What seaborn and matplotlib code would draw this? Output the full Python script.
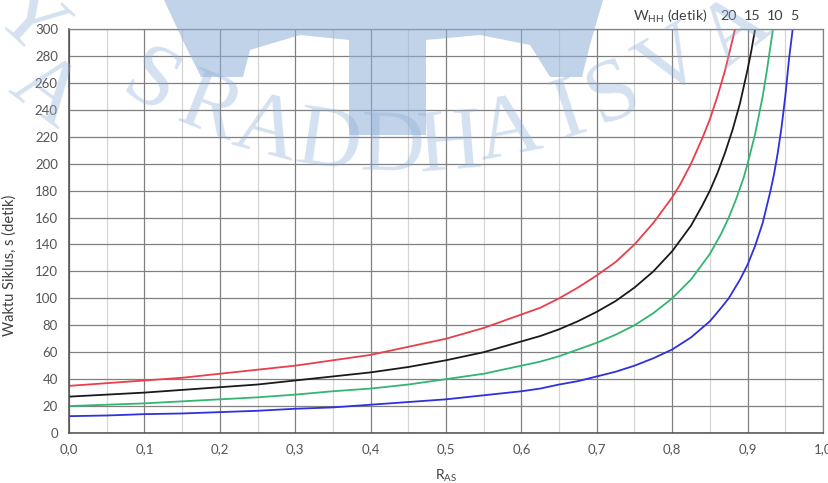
import numpy as np
import pandas as pd
import seaborn as sns
import matplotlib
matplotlib.use("Agg")
import matplotlib.pyplot as plt
from matplotlib.patches import Polygon
from matplotlib.ticker import MultipleLocator, FuncFormatter

# ---------------- data ----------------
r_w20 = [0.0, 0.05, 0.10, 0.15, 0.20, 0.25, 0.30, 0.35, 0.40, 0.45, 0.50, 0.55,
         0.60, 0.625, 0.65, 0.675, 0.70, 0.725, 0.75, 0.775, 0.80, 0.81, 0.825,
         0.84, 0.85, 0.86, 0.87, 0.88, 0.885]
s_w20 = [35, 37, 39, 41, 44, 47, 50, 54, 58, 64, 70, 78,
         88, 93, 100, 108, 117, 127, 140, 156, 175, 184, 200,
         219, 233, 250, 269, 292, 304]

r_w15 = [0.0, 0.05, 0.10, 0.15, 0.20, 0.25, 0.30, 0.35, 0.40, 0.45, 0.50, 0.55,
         0.60, 0.625, 0.65, 0.675, 0.70, 0.725, 0.75, 0.775, 0.80, 0.825, 0.84,
         0.85, 0.86, 0.87, 0.88, 0.89, 0.90, 0.905, 0.91]
s_w15 = [27, 28.5, 30, 32, 34, 36, 39, 42, 45, 49, 54, 60,
         68, 72, 77, 83, 90, 98, 108, 120, 135, 154, 169,
         180, 193, 208, 225, 245, 270, 284, 300]

r_w10 = [0.0, 0.05, 0.10, 0.15, 0.20, 0.25, 0.30, 0.35, 0.40, 0.45, 0.50, 0.55,
         0.60, 0.625, 0.65, 0.675, 0.70, 0.725, 0.75, 0.775, 0.80, 0.825, 0.85,
         0.865, 0.875, 0.885, 0.895, 0.90, 0.91, 0.92, 0.925, 0.93, 0.935]
s_w10 = [20, 21, 22, 23.5, 25, 26.5, 28.5, 31, 33, 36, 40, 44,
         50, 53, 57, 62, 67, 73, 80, 89, 100, 114, 133,
         148, 160, 174, 190, 200, 222, 250, 267, 286, 305]

r_w5 = [0.0, 0.05, 0.10, 0.15, 0.20, 0.25, 0.30, 0.35, 0.40, 0.45, 0.50, 0.55,
        0.60, 0.625, 0.65, 0.675, 0.70, 0.725, 0.75, 0.775, 0.80, 0.825, 0.85,
        0.865, 0.875, 0.89, 0.90, 0.91, 0.92, 0.93, 0.935, 0.94, 0.945, 0.95,
        0.955, 0.962]
s_w5 = [12.5, 13, 14, 14.5, 15.5, 16.5, 18, 19, 21, 23, 25, 28,
        31, 33, 36, 38.5, 42, 45.5, 50, 55.5, 62, 71, 83,
        93, 100, 114, 125, 139, 156, 179, 192, 208, 227, 250,
        278, 310]

series_names = ["20", "15", "10", "5"]
x_ticks = [0.0, 0.1, 0.2, 0.3, 0.4, 0.5, 0.6, 0.7, 0.8, 0.9, 1.0]
y_ticks = list(range(0, 301, 20))

rows = []
for name, xs, ys in zip(series_names, [r_w20, r_w15, r_w10, r_w5],
                        [s_w20, s_w15, s_w10, s_w5]):
    for x, y in zip(xs, ys):
        rows.append({"R_AS": x, "S": y, "W": name})
df = pd.DataFrame(rows)

palette = {"20": "#e8404a", "15": "#1a1a1a", "10": "#33b573", "5": "#3030dc"}

# ---------------- figure ----------------
sns.set_theme(style="white")
plt.rcParams["font.family"] = ["Lato", "DejaVu Sans"]
plt.rcParams["mathtext.fontset"] = "custom"
plt.rcParams["mathtext.rm"] = "Lato"

W, H = 829, 483
fig = plt.figure(figsize=(W / 100, H / 100), dpi=100)
fig.patch.set_facecolor("white")
ax = fig.add_axes([69 / W, 1 - 433 / H, (823 - 69) / W, (433 - 29) / H])
ax.set_facecolor("white")

sns.lineplot(data=df, x="R_AS", y="S", hue="W", palette=palette, ax=ax,
             estimator=None, sort=True, linewidth=1.3, legend=False)

ax.set_xlim(0, 1.0)
ax.set_ylim(0, 300)
ax.set_xticks(x_ticks)
ax.xaxis.set_minor_locator(MultipleLocator(0.05))
ax.set_yticks(y_ticks)
ax.xaxis.set_major_formatter(FuncFormatter(lambda v, p: f"{v:.1f}".replace(".", ",")))

ax.grid(which="major", axis="both", color="#808080", linewidth=0.9, zorder=0)
ax.grid(which="minor", axis="x", color="#d6d6d6", linewidth=0.9, zorder=0)
ax.set_axisbelow(True)

for side in ["left", "bottom"]:
    ax.spines[side].set_color("#4d4d4d")
    ax.spines[side].set_linewidth(1.1)
for side in ["top", "right"]:
    ax.spines[side].set_color("#808080")
    ax.spines[side].set_linewidth(0.9)

ax.tick_params(axis="both", which="both", direction="out", length=3,
               width=1, color="#4d4d4d", labelsize=9.5, labelcolor="#555555")
ax.tick_params(axis="x", which="major", pad=4)
ax.tick_params(axis="y", which="major", pad=5)

ax.set_xlabel("R$_{\\mathregular{AS}}$", fontsize=10, color="#404040")
ax.xaxis.set_label_coords(0.5, -0.085)
ax.set_ylabel("Waktu Siklus, s (detik)", fontsize=10.5, color="#404040")
ax.yaxis.set_label_coords(-0.069, 0.416)

# legend-like header
fig.text(707 / W, 1 - 16 / H, "W$_{\\mathregular{HH}}$ (detik)", ha="right",
         va="center", fontsize=10.3, color="#404040")
for name, px in zip(series_names, [729, 752, 775, 794]):
    fig.text(px / W, 1 - 16 / H, name, ha="center", va="center",
             fontsize=10.3, color="#404040")

# ---------------- watermark ----------------
gear_px = [(164, 0), (185, 45), (201, 77), (243, 77), (250, 50), (300, 35),
           (349, 40), (349, 135), (426, 135), (426, 40), (480, 35), (530, 45),
           (550, 77), (582, 77), (590, 45), (603, 0)]
gear = Polygon([(x / W, 1 - y / H) for x, y in gear_px], closed=True,
               transform=fig.transFigure, facecolor="#8fb0d8", edgecolor="none",
               alpha=0.55, zorder=5)
fig.add_artist(gear)

cx, cy_up = 407, H + 388
letters = [("Y", 28, 22), ("A", 45, 92), ("S", 150, 85), ("R", 210, 110),
           ("A", 266, 131), ("D", 328, 145), ("D", 392, 149), ("H", 450, 147),
           ("A", 508, 132), ("I", 569, 113), ("S", 614, 95), ("V", 673, 64),
           ("A", 736, 33)]
for ch, x, y in letters:
    yu = H - y
    phi = np.degrees(np.arctan2(yu - cy_up, x - cx))
    fig.text(x / W, yu / H, ch, ha="center", va="center", rotation=phi + 90,
             rotation_mode="anchor", fontsize=64, family="Liberation Serif",
             color="#8fb0d8", alpha=0.38, zorder=5)

fig.savefig("out.png", dpi=100, facecolor="white")
